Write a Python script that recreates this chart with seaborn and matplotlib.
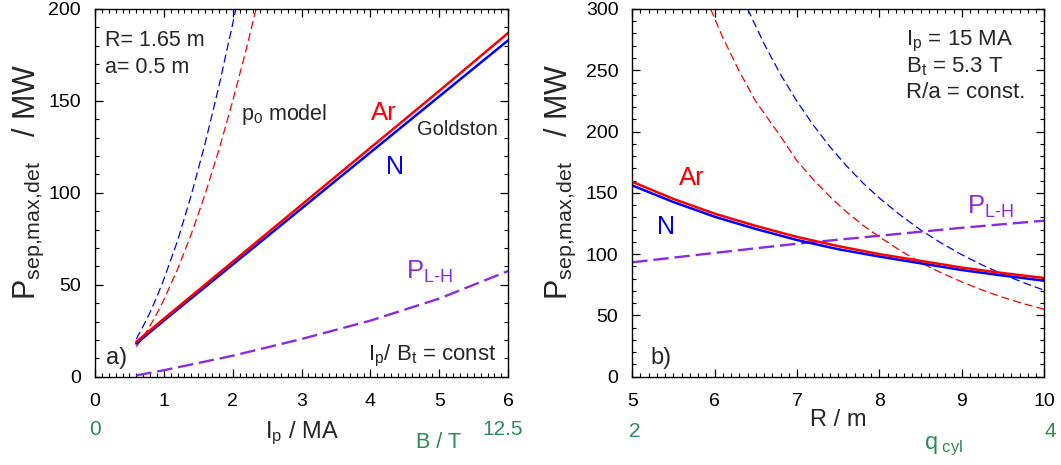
import matplotlib
matplotlib.use("Agg")
import matplotlib.pyplot as plt
import seaborn as sns
from matplotlib.ticker import MultipleLocator

# ---- panel a): Ip scan (R = 1.65 m) ----
ip_goldston = [0.6, 1, 2, 3, 4, 5, 6]
p_ar_a = [19, 31.5, 62.5, 93.5, 124.5, 155.5, 187]
p_n_a = [18, 30.5, 61, 91.5, 122, 152.5, 183]

ip_p0_n = [0.6, 0.7, 0.8, 0.9, 1.0, 1.2, 1.4, 1.6, 1.8, 2.0, 2.05]
p_p0_n_a = [20.5, 27.5, 35, 43.5, 53, 74, 99, 127, 158, 192, 201]
ip_p0_ar = [0.6, 0.7, 0.8, 0.9, 1.0, 1.2, 1.4, 1.6, 1.8, 2.0, 2.2, 2.35]
p_p0_ar_a = [16.3, 21.7, 27.7, 34.4, 41.8, 58.5, 77.7, 99.3, 123.4, 150, 178.6, 201.7]

ip_lh = [0.6, 1, 2, 3, 4, 5, 6]
p_lh_a = [0.7, 3.5, 11.4, 20.5, 30.5, 42.5, 57.5]

# ---- panel b): R scan (Ip = 15 MA) ----
r_goldston = [5, 5.5, 6, 6.5, 7, 7.5, 8, 8.5, 9, 9.5, 10]
p_ar_b = [159, 145, 133, 123, 114, 106.5, 100, 94.5, 89, 84.5, 80.5]
p_n_b = [156, 142.5, 130.5, 120.5, 111.5, 104, 98, 92.5, 87, 82.5, 78.3]

r_p0_ar = [5.95, 6.1, 6.3, 6.5, 6.8, 7.0, 7.2, 7.4, 7.6, 7.8, 8.0, 8.25,
           8.5, 8.75, 9.0, 9.25, 9.5, 9.75, 10]
p_p0_ar_b = [300, 276.5, 249, 224.5, 196, 176, 160.6, 146.8, 134.4, 123.5,
             114, 103, 93.2, 84.7, 77.3, 70.6, 64.7, 59.5, 55]
r_p0_n = [6.4, 6.6, 6.8, 7.0, 7.2, 7.4, 7.6, 7.8, 8.0, 8.25, 8.5, 8.75,
          9.0, 9.25, 9.5, 9.75, 10]
p_p0_n_b = [300, 271.6, 246.5, 224.5, 205, 187.5, 172, 158, 145.7, 132, 119.7,
            109, 99.5, 91, 83.5, 76.7, 70.5]

r_lh = [5, 6, 7, 8, 9, 10]
p_lh_b = [93.3, 101, 108.5, 115, 121.5, 127.3]

RED = "#ff0000"
BLUE = "#0000ff"
PURPLE = "#8a2be2"
GREEN = "#2e8b57"

sns.set_theme(style="ticks")
plt.rcParams["font.family"] = ["Liberation Sans", "DejaVu Sans"]
plt.rcParams["mathtext.fontset"] = "custom"
plt.rcParams["mathtext.rm"] = "Liberation Sans"
plt.rcParams["mathtext.it"] = "Liberation Sans:italic"
plt.rcParams["mathtext.bf"] = "Liberation Sans:bold"

fig = plt.figure(figsize=(10.61, 4.65), dpi=100)
ax_a = fig.add_axes([0.0895, 0.1899, 0.3895, 0.7908])
ax_b = fig.add_axes([0.5959, 0.1899, 0.3883, 0.7908])

thin_dash = (0, (6.5, 3.2))
lh_dash = (0, (6.5, 2.5))
ylabel = r"P$_{\mathrm{sep{,}max{,}det}}$   / MW"


def style_axes(ax, xlim, ylim, xmaj, ymaj):
    ax.set_xlim(*xlim)
    ax.set_ylim(*ylim)
    ax.xaxis.set_major_locator(MultipleLocator(xmaj))
    ax.xaxis.set_minor_locator(MultipleLocator(xmaj / 10))
    ax.yaxis.set_major_locator(MultipleLocator(ymaj))
    ax.yaxis.set_minor_locator(MultipleLocator(ymaj / 5))
    ax.tick_params(which="both", direction="in", top=True, right=True,
                   colors="black", labelsize=14, pad=10)
    ax.tick_params(axis="x", pad=12)
    ax.tick_params(which="major", length=6, width=0.9)
    ax.tick_params(which="minor", length=3, width=0.8)
    for s in ax.spines.values():
        s.set_color("black")
        s.set_linewidth(1.0)
    ylab = ax.get_yticklabels()
    ylab[0].set_va("bottom")
    ylab[-1].set_va("top")


# ---- panel a ----
ax = ax_a
sns.lineplot(x=ip_p0_n, y=p_p0_n_a, ax=ax, color=BLUE, lw=0.9, linestyle=thin_dash)
sns.lineplot(x=ip_p0_ar, y=p_p0_ar_a, ax=ax, color=RED, lw=0.9, linestyle=thin_dash)
sns.lineplot(x=ip_lh, y=p_lh_a, ax=ax, color=PURPLE, lw=1.7, linestyle=lh_dash)
sns.lineplot(x=ip_goldston, y=p_n_a, ax=ax, color=BLUE, lw=1.8)
sns.lineplot(x=ip_goldston, y=p_ar_a, ax=ax, color=RED, lw=1.8)
style_axes(ax, (0, 6), (0, 200), 1, 50)

ax.text(0.15, 180, "R= 1.65 m", fontsize=15.5, va="baseline")
ax.text(0.15, 165.4, "a= 0.5 m", fontsize=15.5, va="baseline")
ax.text(2.12, 139.5, r"p$_{0}$ model", fontsize=15.5, va="baseline")
ax.text(4.0, 139.5, "Ar", fontsize=18.5, color=RED, va="baseline")
ax.text(4.67, 131.7, "Goldston", fontsize=14.5, va="baseline")
ax.text(4.22, 110.1, "N", fontsize=18, color=BLUE, va="baseline")
ax.text(4.51, 53.1, r"P$_{\mathrm{L\text{-}H}}$", fontsize=18.5, color=PURPLE, va="baseline")
ax.text(0.167, 7.1, "a)", fontsize=17, va="baseline")
ax.text(5.83, 9.0, r"I$_\mathrm{p}$/ B$_\mathrm{t}$ = const", fontsize=16,
        va="baseline", ha="right")

ax.set_xlabel(r"I$_\mathrm{p}$ / MA", fontsize=17, va="center")
ax.xaxis.set_label_coords(0.5, -0.153)
ax.set_ylabel(ylabel, fontsize=22, va="center")
ax.yaxis.set_label_coords(-0.16, 0.53)

tr = ax.get_xaxis_transform()
ax.text(0, -0.1436, "0", transform=tr, color=GREEN, fontsize=15, ha="center", va="center")
ax.text(5.92, -0.1436, "12.5", transform=tr, color=GREEN, fontsize=15, ha="center", va="center")
ax.text(4.99, -0.178, "B / T", transform=tr, color=GREEN, fontsize=15.5, ha="center", va="center")

# ---- panel b ----
ax = ax_b
sns.lineplot(x=r_p0_ar, y=p_p0_ar_b, ax=ax, color=RED, lw=0.9, linestyle=thin_dash)
sns.lineplot(x=r_p0_n, y=p_p0_n_b, ax=ax, color=BLUE, lw=0.9, linestyle=thin_dash)
sns.lineplot(x=r_lh, y=p_lh_b, ax=ax, color=PURPLE, lw=1.7, linestyle=lh_dash)
sns.lineplot(x=r_goldston, y=p_n_b, ax=ax, color=BLUE, lw=1.8)
sns.lineplot(x=r_goldston, y=p_ar_b, ax=ax, color=RED, lw=1.8)
style_axes(ax, (5, 10), (0, 300), 1, 50)

ax.text(8.32, 270.6, r"I$_\mathrm{p}$ = 15 MA", fontsize=16, va="baseline")
ax.text(8.32, 248.6, r"B$_\mathrm{t}$ = 5.3 T", fontsize=16, va="baseline")
ax.text(8.32, 227.4, "R/a = const.", fontsize=16, va="baseline")
ax.text(5.57, 156.7, "Ar", fontsize=18.5, color=RED, va="baseline")
ax.text(5.30, 116.7, "N", fontsize=18, color=BLUE, va="baseline")
ax.text(9.06, 133.3, r"P$_{\mathrm{L\text{-}H}}$", fontsize=18.5, color=PURPLE, va="baseline")
ax.text(5.22, 10.5, "b)", fontsize=17, va="baseline")

ax.set_xlabel("R / m", fontsize=17, va="center")
ax.xaxis.set_label_coords(0.5, -0.118)
ax.set_ylabel(ylabel, fontsize=22, va="center")
ax.yaxis.set_label_coords(-0.175, 0.53)

tr = ax.get_xaxis_transform()
ax.text(5.03, -0.149, "2", transform=tr, color=GREEN, fontsize=15, ha="center", va="center")
ax.text(10.07, -0.149, "4", transform=tr, color=GREEN, fontsize=15, ha="center", va="center")
ax.text(8.78, -0.19, r"q$_{\ \mathrm{cyl}}$", transform=tr, color=GREEN, fontsize=17,
        ha="center", va="center")

fig.savefig("out.png", dpi=100)
